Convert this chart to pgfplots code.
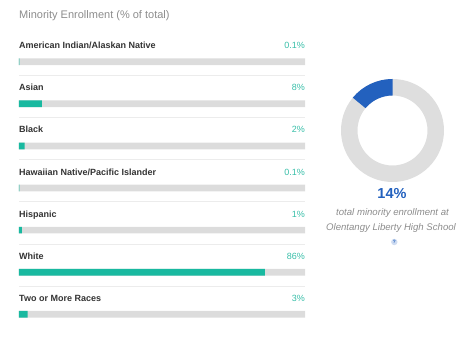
\documentclass[border=0pt]{standalone}
\usepackage{pgfplots}
\pgfplotsset{compat=1.18}
\usepackage{fontspec}
\setmainfont{Liberation Sans}
\usetikzlibrary{calc}
\definecolor{teal1}{RGB}{25,185,160}
\definecolor{tealtxt}{RGB}{55,190,168}
\definecolor{track}{RGB}{220,220,220}
\definecolor{ring}{RGB}{222,222,222}
\definecolor{sep}{RGB}{236,236,236}
\definecolor{blue1}{RGB}{35,97,190}
\definecolor{titlegray}{RGB}{140,140,140}
\definecolor{labdark}{RGB}{51,51,51}
\begin{document}
\begin{tikzpicture}[x=1pt,y=1pt]
\path (0,0) rectangle (475,357);
% title
\node[anchor=base west, inner sep=0, text=titlegray, font=\fontsize{11}{13}\selectfont] at (19,338) {Minority Enrollment (\% of total)};
\begin{axis}[
  at={(19pt,42.7pt)}, anchor=south west,
  scale only axis, width=286pt, height=252.6pt,
  xmin=0, xmax=100, ymin=0, ymax=6,
  hide axis, clip=false,
  xbar, bar width=6.7pt,
]
% separators
\foreach \r in {0,...,5} {
  \edef\tmp{\noexpand\draw[sep, line width=0.8pt] (axis cs:0,\r.672) -- (axis cs:100,\r.672);}
  \tmp
}
% row 0 (top) at y=6 ... row 6 (bottom) at y=0
\addplot[fill=track, draw=none, bar shift=0pt] coordinates {(100,6) (100,5) (100,4) (100,3) (100,2) (100,1) (100,0)};
\addplot[fill=teal1, draw=none, bar shift=0pt] coordinates {(0.1,6) (8,5) (2,4) (0.1,3) (1,2) (86,1) (3,0)};
% labels
\tikzset{lab/.style={anchor=base west, inner sep=0, text=labdark, font=\fontsize{9}{11}\selectfont\bfseries, yshift=13pt},
         val/.style={anchor=base east, inner sep=0, text=tealtxt, font=\fontsize{9}{11}\selectfont, yshift=13pt}}
\node[lab] at (axis cs:0,6) {American Indian/Alaskan Native};
\node[lab] at (axis cs:0,5) {Asian};
\node[lab] at (axis cs:0,4) {Black};
\node[lab] at (axis cs:0,3) {Hawaiian Native/Pacific Islander};
\node[lab] at (axis cs:0,2) {Hispanic};
\node[lab] at (axis cs:0,1) {White};
\node[lab] at (axis cs:0,0) {Two or More Races};
\node[val] at (axis cs:100,6) {0.1\%};
\node[val] at (axis cs:100,5) {8\%};
\node[val] at (axis cs:100,4) {2\%};
\node[val] at (axis cs:100,3) {0.1\%};
\node[val] at (axis cs:100,2) {1\%};
\node[val] at (axis cs:100,1) {86\%};
\node[val] at (axis cs:100,0) {3\%};
\end{axis}
% donut
\pgfmathsetmacro{\share}{14}
\pgfmathsetmacro{\endang}{90+3.6*\share}
\coordinate (c) at (392.5,226.5);
\fill[ring, even odd rule] (c) circle (51.5) (c) circle (35);
\fill[blue1] ($(c)+(90:51.5)$) arc (90:\endang:51.5) -- ($(c)+(\endang:35)$) arc (\endang:90:35) -- cycle;
\node[anchor=base, inner sep=0, text=blue1, font=\fontsize{14.5}{16}\selectfont\bfseries] at (392,158) {14\%};
\node[anchor=base, inner sep=0, text=titlegray, font=\fontsize{9.6}{11}\selectfont\itshape] at (392.5,141.3) {total minority enrollment at};
\node[anchor=base, inner sep=0, text=titlegray, font=\fontsize{9.6}{11}\selectfont\itshape] at (391,126.5) {Olentangy Liberty High School};
\fill[blue1!22] (394.3,115) circle (3.2);
\node[inner sep=0, text=blue1, font=\fontsize{4.8}{6}\selectfont\bfseries] at (394.3,115) {?};
\end{tikzpicture}
\end{document}
